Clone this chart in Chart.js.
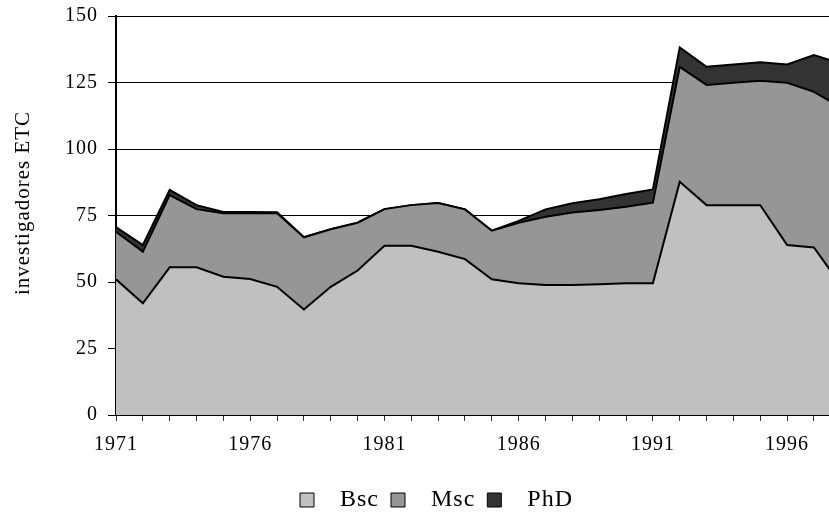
<!DOCTYPE html>
<html>
<head>
<meta charset="utf-8">
<script src="https://cdn.jsdelivr.net/npm/chart.js@4/dist/chart.umd.min.js"></script>
<style>
  html, body { margin: 0; padding: 0; background: #fff; overflow: hidden; }
  #wrap { width: 829px; height: 512px; }
</style>
</head>
<body>
<div id="wrap"><canvas id="c" width="829" height="512"></canvas></div>
<script>
// ---- data ----
const years = [1971,1972,1973,1974,1975,1976,1977,1978,1979,1980,1981,1982,1983,1984,1985,
               1986,1987,1988,1989,1990,1991,1992,1993,1994,1995,1996,1997,1998];
const bsc   = [51.0,42.0,55.5,55.5,52.0,51.1,48.2,39.7,48.2,54.3,63.6,63.6,61.4,58.6,51.0,
               49.5,48.9,48.9,49.2,49.5,49.5,87.7,78.9,78.9,78.9,63.9,63.0,48.9];
const msc   = [17.9,19.4,27.2,21.9,23.8,24.7,27.6,27.1,21.6,18.0,13.8,15.3,18.3,18.7,18.3,
               22.8,25.6,27.2,27.9,28.8,30.3,43.2,45.2,46.0,46.8,61.0,58.5,66.7];
const phd   = [1.7,2.5,1.9,1.5,0.5,0.5,0.4,0,0,0,0,0,0,0,0,
               0.7,2.8,3.5,4.0,4.8,5.0,7.3,6.8,6.9,6.9,6.9,13.8,16.5];
const seriesNames = ['Bsc','Msc','PhD'];
const yTicks = [0,25,50,75,100,125,150];
const xLabelYears = [1971,1976,1981,1986,1991,1996];
const yTitle = 'investigadores ETC';

const FONT = "'Liberation Serif','Times New Roman',serif";
const toPts = arr => years.map((y,i) => ({x: y, y: arr[i]}));

const helper = {
  id: 'helper',
  beforeLayout(chart) { chart.ctx.letterSpacing = '1px'; },
  beforeDraw(chart) { chart.ctx.letterSpacing = '1px'; },
  afterLayout(chart) {
    const l = chart.legend;
    if (l) { l.top += 10; l.bottom += 10; l.left += 22; l.right += 22; }
  }
};

new Chart(document.getElementById('c'), {
  type: 'line',
  data: {
    datasets: [
      { label: seriesNames[0], data: toPts(bsc), backgroundColor: '#c0c0c0', fill: 'origin' },
      { label: seriesNames[1], data: toPts(msc), backgroundColor: '#969696', fill: '-1' },
      { label: seriesNames[2], data: toPts(phd), backgroundColor: '#333333', fill: '-1' }
    ].map(d => Object.assign(d, { borderColor: '#000', borderWidth: 2, pointRadius: 0, tension: 0 }))
  },
  options: {
    responsive: false,
    animation: false,
    layout: { padding: { top: 16, right: 0, bottom: 0, left: 0 } },
    plugins: {
      tooltip: { enabled: false },
      legend: {
        position: 'bottom',
        labels: {
          font: { family: FONT, size: 24 },
          color: '#000',
          boxWidth: 14,
          boxHeight: 14,
          padding: 12,
          generateLabels(chart) {
            return Chart.defaults.plugins.legend.labels.generateLabels(chart).map(it => {
              it.text = '  ' + it.text;
              it.lineWidth = 1;
              it.strokeStyle = '#000';
              return it;
            });
          }
        }
      }
    },
    scales: {
      x: {
        type: 'linear',
        min: 1971,
        max: 1997.56,
        afterFit(s) { s.height = 51; },
        ticks: {
          stepSize: 1,
          includeBounds: false,
          autoSkip: false,
          maxRotation: 0,
          minRotation: 0,
          padding: 12,
          color: '#000',
          font: { family: FONT, size: 20 },
          callback: v => xLabelYears.includes(v) ? String(v) : ''
        },
        grid: { drawOnChartArea: false, color: '#333', lineWidth: 1, tickLength: 6 },
        border: { color: '#000', width: 2 }
      },
      y: {
        stacked: true,
        min: 0,
        max: 150,
        afterFit(s) { s.width = 116; s.paddingTop = 0; s.paddingBottom = 0; },
        afterBuildTicks(s) { s.ticks = yTicks.map(v => ({ value: v })); },
        ticks: {
          stepSize: 25,
          padding: 10,
          color: '#000',
          font: { family: FONT, size: 20 }
        },
        grid: { color: '#000', lineWidth: 1, tickLength: 8 },
        border: { color: '#000', width: 2 },
        title: {
          display: true,
          text: '    ' + yTitle,
          color: '#000',
          font: { family: FONT, size: 21 },
          padding: { top: 11, bottom: 0 }
        }
      }
    }
  },
  plugins: [helper]
});
</script>
</body>
</html>
